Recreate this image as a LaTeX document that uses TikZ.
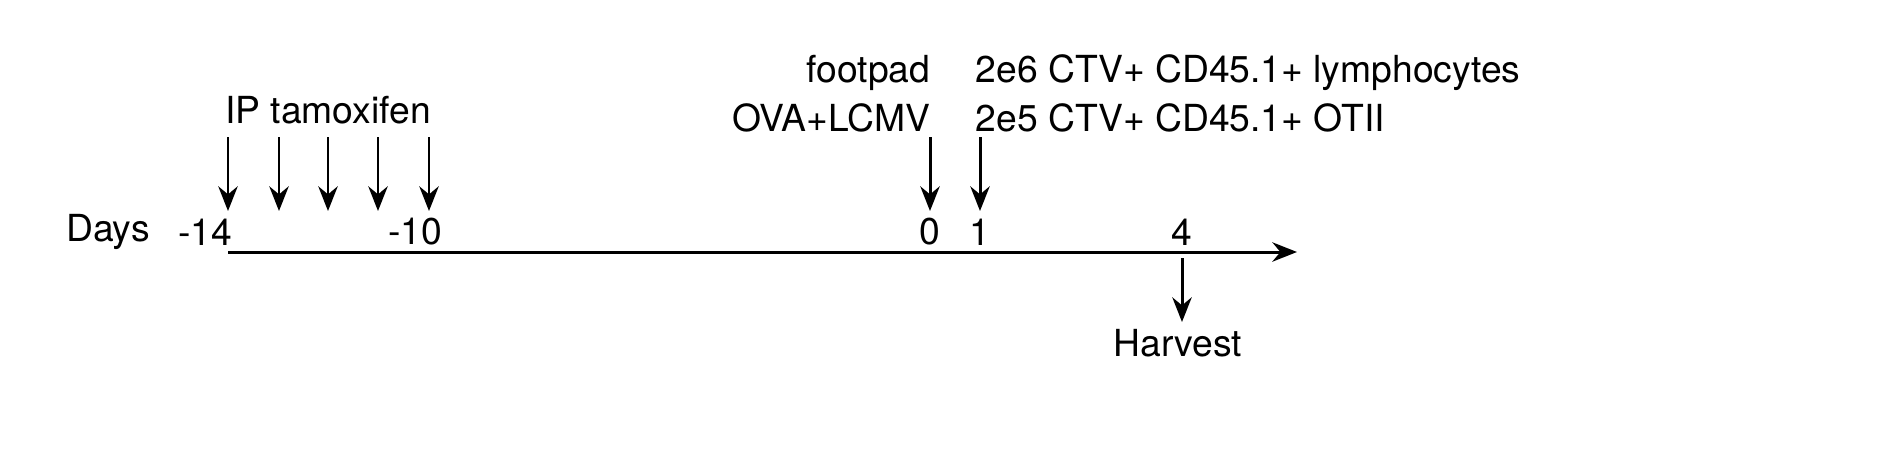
\documentclass[tikz,border=0pt]{standalone}
\usepackage{fontspec}
\setmainfont{TeX Gyre Heros}
\usetikzlibrary{arrows.meta}
\begin{document}
\begin{tikzpicture}[x=0.01cm,y=-0.01cm,>={Stealth[length=7pt,width=5.5pt]},
  lbl/.style={inner sep=0pt,font=\fontsize{10.6}{12}\selectfont},
  tick/.style={->,line width=0.85pt}]
  \useasboundingbox (0,0) rectangle (1887,472);
  % time axis
  \coordinate (start) at (228,252);
  \coordinate (stop) at (1297,252);
  \draw[tick] (start) -- (stop);
  \node[lbl] (days) at (108,232) {Days};
  \node[lbl] (m14) at (205,232) {-14};
  \node[lbl] (m10) at (415,232) {-10};
  \node[lbl] (d0) at (930,232) {0};
  \node[lbl] (d1) at (980,232) {1};
  \node[lbl] (d4) at (1182,232) {4};
  % tamoxifen injections
  \node[lbl] (tam) at (328,110) {IP tamoxifen};
  \foreach \x [count=\i] in {228,279,328,378,429} {
    \coordinate (t\i) at (\x,137);
    \coordinate (b\i) at (\x,211);
    \draw[tick] (t\i) -- (b\i);
  }
  % immunisation and transfer
  \node[lbl,anchor=east] (foot) at (931,73) {footpad};
  \node[lbl,anchor=east] (ova) at (931,118) {OVA+LCMV};
  \node[lbl,anchor=west] (lym) at (975,73) {2e6 CTV+ CD45.1+ lymphocytes};
  \node[lbl,anchor=west] (ot) at (975,118) {2e5 CTV+ CD45.1+ OTII};
  \coordinate (i0) at (930,137); \coordinate (j0) at (930,211);
  \coordinate (i1) at (980,137); \coordinate (j1) at (980,211);
  \draw[tick] (i0) -- (j0);
  \draw[tick] (i1) -- (j1);
  % harvest
  \node[lbl] (harv) at (1178,343) {Harvest};
  \coordinate (h0) at (1182,258);
  \coordinate (h1) at (1182,322);
  \draw[tick] (h0) -- (h1);
\end{tikzpicture}
\end{document}
